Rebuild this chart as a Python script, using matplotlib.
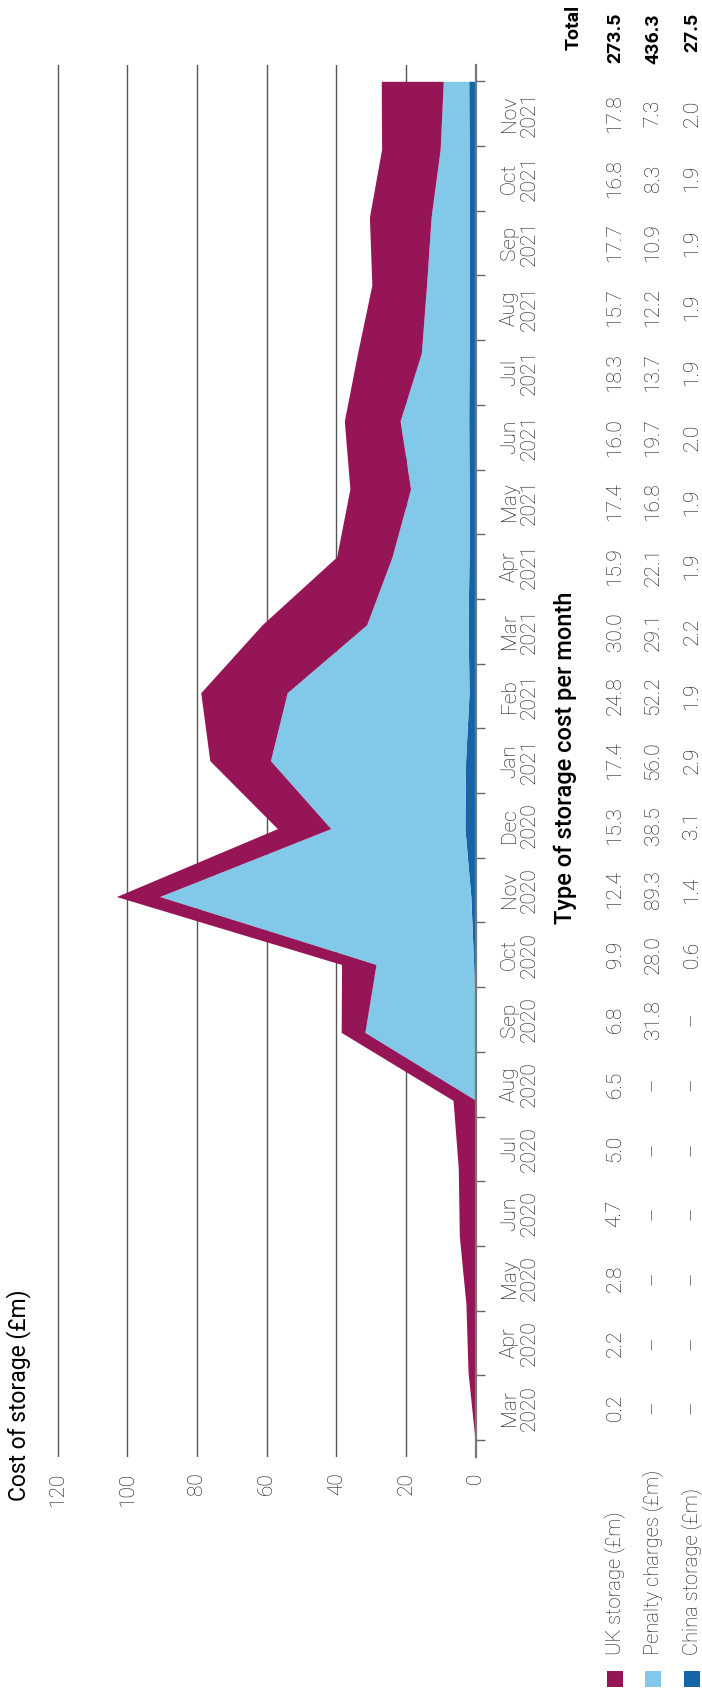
import numpy as np
import matplotlib
matplotlib.use('Agg')
import matplotlib.pyplot as plt
from matplotlib.patches import Rectangle
from matplotlib.transforms import blended_transform_factory

plt.rcParams['font.family'] = ['Roboto', 'DejaVu Sans']

months = ['Mar\n2020', 'Apr\n2020', 'May\n2020', 'Jun\n2020', 'Jul\n2020', 'Aug\n2020',
          'Sep\n2020', 'Oct\n2020', 'Nov\n2020', 'Dec\n2020', 'Jan\n2021', 'Feb\n2021',
          'Mar\n2021', 'Apr\n2021', 'May\n2021', 'Jun\n2021', 'Jul\n2021', 'Aug\n2021',
          'Sep\n2021', 'Oct\n2021', 'Nov\n2021']

# None = no cost that month (shown as a dash in the table)
uk_storage = [0.2, 2.2, 2.8, 4.7, 5.0, 6.5, 6.8, 9.9, 12.4, 15.3, 17.4, 24.8,
              30.0, 15.9, 17.4, 16.0, 18.3, 15.7, 17.7, 16.8, 17.8]
penalty = [None, None, None, None, None, None, 31.8, 28.0, 89.3, 38.5, 56.0, 52.2,
           29.1, 22.1, 16.8, 19.7, 13.7, 12.2, 10.9, 8.3, 7.3]
china_storage = [None, None, None, None, None, None, None, 0.6, 1.4, 3.1, 2.9, 1.9,
                 2.2, 1.9, 1.9, 2.0, 1.9, 1.9, 1.9, 1.9, 2.0]

series_names = ['UK storage (£m)', 'Penalty charges (£m)', 'China storage (£m)']
totals = ['273.5', '436.3', '27.5']
value_ticks = [0, 20, 40, 60, 80, 100, 120]

colors = ['#961556', '#82c8e8', '#1565a6']
text_col = '#111111'
fs = 15

W, H = 702, 1692
fig = plt.figure(figsize=(W / 100, H / 100), dpi=100)


def fx(px):
    return px / W


def fy(py):
    return 1 - py / H


# the whole chart is turned on its side: values run right-to-left,
# months run bottom-to-top
zero_px, px_per_unit = 475.7, 3.485
xmax = 122
left_px = zero_px - xmax * px_per_unit
ax = fig.add_axes([fx(left_px), fy(1457), (zero_px - left_px) / W, (1457 - 65) / H])

n = len(months)
pos = np.arange(n)


def arr(vals):
    return np.array([0.0 if v is None else v for v in vals])


c = arr(china_storage)
p = c + arr(penalty)
u = p + arr(uk_storage)

ax.fill_betweenx(pos, 0, c, color=colors[2], lw=0, zorder=3)
ax.fill_betweenx(pos, c, p, color=colors[1], lw=0, zorder=3)
ax.fill_betweenx(pos, p, u, color=colors[0], lw=0, zorder=3)

ax.set_xlim(xmax, 0)
ax.set_ylim(-0.25, n - 1 + 0.24)

for s in ['top', 'bottom', 'left']:
    ax.spines[s].set_visible(False)
ax.spines['right'].set_color('#777777')
ax.spines['right'].set_linewidth(1.6)
ax.spines['right'].set_zorder(4)

ax.set_xticks(value_ticks)
ax.set_xticklabels([str(v) for v in value_ticks], rotation=90,
                   fontsize=fs, fontweight='light', color=text_col)
ax.tick_params(axis='x', length=0, pad=11)
ax.grid(axis='x', color='#555555', lw=1)
ax.set_axisbelow(True)

# category boundaries: one more tick than there are months
edges = np.linspace(0, n - 1, n + 1)
centers = (edges[:-1] + edges[1:]) / 2
ax.yaxis.tick_right()
ax.set_yticks(edges)
ax.set_yticklabels([])
ax.tick_params(axis='y', direction='out', length=6.5, width=1, color='#666666')

trans = blended_transform_factory(fig.transFigure, ax.transData)
row_x = [615, 653, 692]
for i, m in enumerate(months):
    ax.text(fx(519.5), centers[i], m, transform=trans, rotation=90,
            ha='center', va='center', fontsize=fs, fontweight='light',
            color=text_col, linespacing=1.05)
    for j, vals in enumerate([uk_storage, penalty, china_storage]):
        v = vals[i]
        lab = '–' if v is None else f'{v:.1f}'
        ax.text(fx(row_x[j]), centers[i], lab, transform=trans, rotation=90,
                ha='center', va='center', fontsize=fs, fontweight='light',
                color=text_col)

fig.text(fx(574), fy(5), 'Total', rotation=90, ha='center', va='top',
         fontsize=14, fontweight='bold', color='black')
for j, t in enumerate(totals):
    fig.text(fx(row_x[j]), fy(13), t, rotation=90, ha='center', va='top',
             fontsize=14, fontweight='bold', color='black')

fig.text(fx(19), fy(1501), 'Cost of storage (£m)', rotation=90, ha='center',
         va='bottom', fontsize=16.5, color='black')
fig.text(fx(565), fy(758), 'Type of storage cost per month', rotation=90,
         ha='center', va='center', fontsize=17, fontweight='medium', color='black')

# legend swatches with their series names
for j, name in enumerate(series_names):
    fig.add_artist(Rectangle((fx(row_x[j] - 8), fy(1687)), 16 / W, 16 / H,
                             transform=fig.transFigure, color=colors[j], lw=0))
    fig.text(fx(row_x[j]), fy(1655), name, rotation=90, ha='center', va='bottom',
             fontsize=14.5, fontweight='light', color=text_col)

fig.savefig('out.png', dpi=100, facecolor='white')
